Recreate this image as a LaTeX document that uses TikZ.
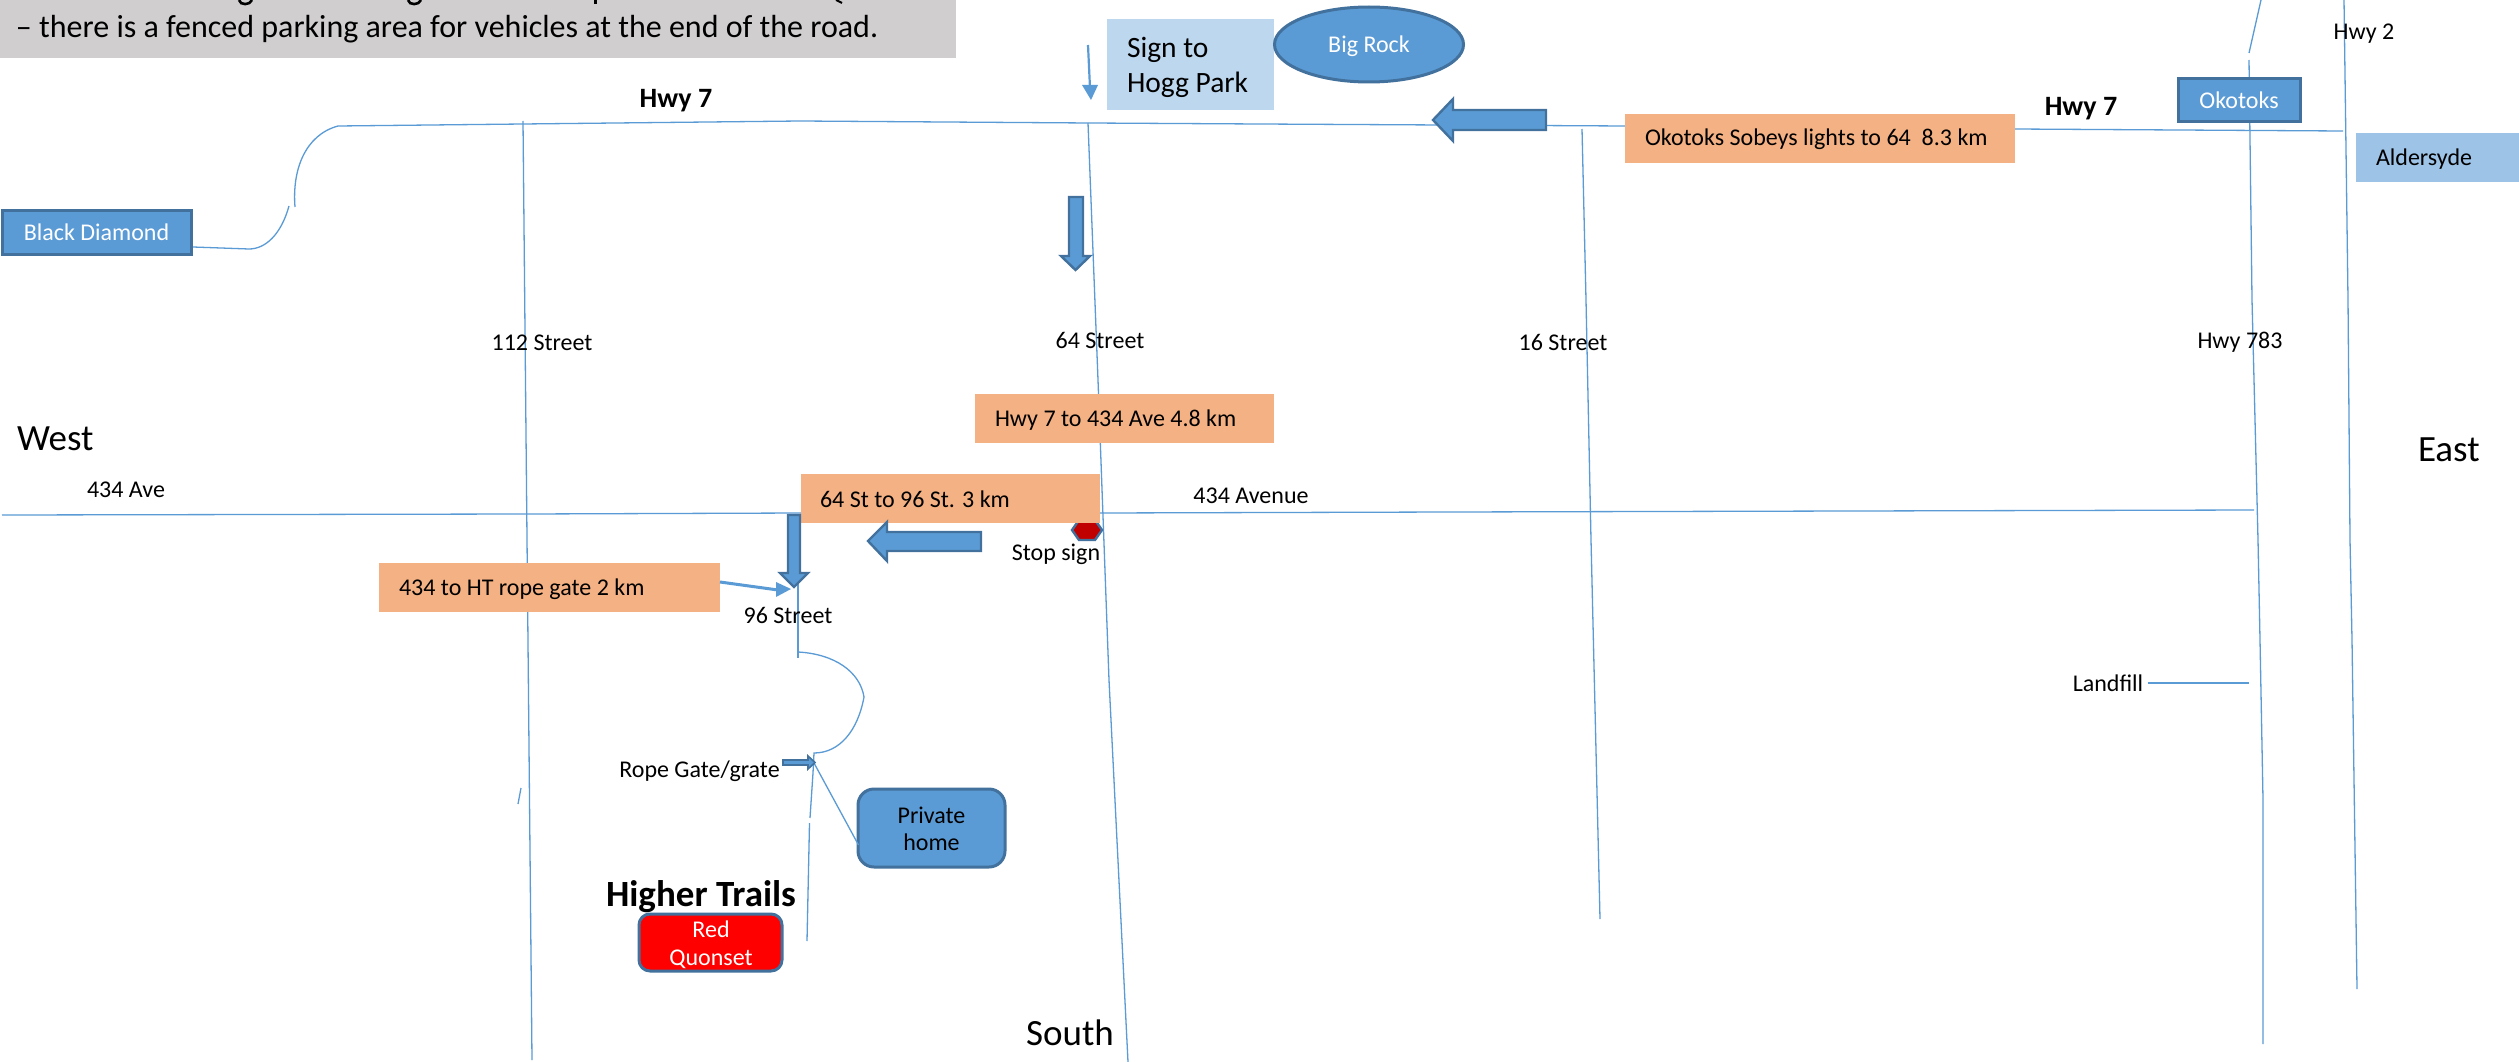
\documentclass[tikz,border=0pt]{standalone}
\usepackage{fontspec}
\setmainfont{Carlito}
\definecolor{road}{HTML}{5B9BD5}
\definecolor{edge}{HTML}{41719C}
\definecolor{peach}{HTML}{F4B183}
\definecolor{greybox}{HTML}{D0CECE}
\definecolor{paleblue}{HTML}{BDD7EE}
\definecolor{midblue}{HTML}{9DC3E6}
\definecolor{stopred}{HTML}{C00000}
\tikzset{
  roadline/.style={draw=road,line width=1.3pt},
  fatarrow/.style={fill=road,draw=edge,line width=2.4pt,line join=miter},
  lbl/.style={inner sep=0pt,outer sep=0pt,anchor=base,text=black,font=\fontsize{24}{28}\selectfont},
  lblw/.style={lbl,anchor=base west},
  boldlbl/.style={lbl,font=\fontsize{28}{32}\selectfont\bfseries},
  compass/.style={lbl,font=\fontsize{37}{44}\selectfont},
  whitetxt/.style={lbl,text=white},
  flat/.style={draw=none,inner sep=0pt,outer sep=0pt},
  bluebox/.style={fill=road,draw=edge,line width=3pt},
  headfill/.style={fill=road,draw=none}
}
\begin{document}
\begin{tikzpicture}[x=1pt,y=-1pt]
\useasboundingbox[fill=white] (0,0) rectangle (2519,1062);
% grey note
\fill[greybox] (0,0) rectangle (956,58);
\draw[black,line width=2.6pt] (239,0) .. controls (240,5.5) and (250,5.5) .. (252,0);
\draw[black,line width=2.6pt] (408,0) .. controls (409,5.5) and (419,5.5) .. (421,0);
\draw[black,line width=3pt] (595,0) -- (595,4);
\draw[black,line width=2pt] (836,0) -- (842,3);
\node[lblw,font=\fontsize{32}{38}\selectfont] (note) at (16,38) {– there is a fenced parking area for vehicles at the end of the road.};
% roads
\draw[roadline] (338,126) -- (800,121) -- (1090,123) -- (1260,124) -- (1626,126) -- (2015,129) -- (2343,131);
\draw[roadline] (338,126) .. controls (305,135) and (292,170) .. (295,207);
\draw[roadline] (289,206) .. controls (281,235) and (265,249) .. (249,249) -- (193,247);
\draw[roadline] (523,121) -- (532,1060);
\draw[roadline] (521,788) -- (518,804);
\draw[roadline] (1088,123) -- (1098,380) -- (1109,680) -- (1128,1062);
\draw[roadline] (1582,129) -- (1586,300) -- (1591,540) -- (1600,919);
\draw[roadline] (2261,0) -- (2249,53);
\draw[roadline] (2249,60) -- (2252,300) -- (2258,540) -- (2260,640) -- (2263,800) -- (2263,1044);
\draw[roadline] (2344,0) -- (2348,300) -- (2350,540) -- (2352,640) -- (2357,989);
\draw[roadline] (2,515) -- (527,514) -- (801,513) -- (1100,513) -- (1450,512) -- (2254,510);
\draw[roadline] (798,514) -- (798,658);
\draw[roadline] (798,652) .. controls (835,654) and (860,672) .. (864,697);
\draw[roadline] (864,697) .. controls (858,730) and (840,753) .. (814,753) -- (813,773) -- (810,818);
\draw[roadline] (809.5,823) -- (807,941);
\coordinate (gatepoint) at (814,763);
\draw[roadline] (2147.5,683) -- (2249,683);
% stop sign
\draw[fill=stopred,draw=edge,line width=2.4pt] (1072,530) -- (1079,520) -- (1095,520) -- (1102,530) -- (1095,540) -- (1079,540) -- cycle;
% boxes
\node[flat,fill=paleblue,minimum width=167pt,minimum height=91pt,anchor=north west] (sign) at (1107,19) {};
\node[lblw,font=\fontsize{29.5}{34}\selectfont] (signa) at (1127,58) {Sign to};
\node[lblw,font=\fontsize{29.5}{34}\selectfont] (signb) at (1127,93) {Hogg Park};
\draw[bluebox] (1369,44.5) ellipse [x radius=94.5,y radius=37.5];
\node[whitetxt] (bigrock) at (1369,53) {Big Rock};
\node[flat,fill=peach,minimum width=390pt,minimum height=49pt,anchor=north west] (okbox) at (1625,114) {};
\node[lblw] (oktext) at (1645,146) {Okotoks Sobeys lights to 64\ \ 8.3 km};
\node[flat,fill=peach,minimum width=299pt,minimum height=49pt,anchor=north west] (hwybox) at (975,394) {};
\node[lblw] (hwytext) at (995,426) {Hwy 7 to 434 Ave 4.8 km};
\node[flat,fill=peach,minimum width=299pt,minimum height=49pt,anchor=north west] (stbox) at (801,474) {};
\node[lblw] (sttext) at (820,507) {64 St to 96 St. 3 km};
\node[flat,fill=peach,minimum width=341pt,minimum height=49pt,anchor=north west] (htbox) at (379,563) {};
\node[lblw] (httext) at (399,595) {434 to HT rope gate 2 km};
\node[flat,fill=midblue,minimum width=163pt,minimum height=49pt,anchor=north west] (alder) at (2356,133) {};
\node[lblw] (aldertext) at (2376,165) {Aldersyde};
\draw[bluebox] (2,210) rectangle (191,254);
\coordinate (bdedge) at (191,247);
\node[whitetxt] (bdtext) at (96.5,240) {Black Diamond};
\draw[bluebox] (2178,79) rectangle (2300,122);
\node[whitetxt] (oktoks) at (2239,109) {Okotoks};
\draw[bluebox,rounded corners=16pt] (858,789) rectangle (1005,867);
\draw[roadline] (gatepoint) -- (858.5,845);
\node[lbl] (priv1) at (931.5,823) {Private};
\node[lbl] (priv2) at (931.5,850) {home};
\draw[fill=red,draw=edge,line width=3pt,rounded corners=11pt] (639,914) rectangle (782,971);
\node[whitetxt] (red1) at (711,937) {Red};
\node[whitetxt] (red2) at (711,965) {Quonset};
% fat arrows
\draw[fatarrow] (1069,197) -- (1083,197) -- (1083,256) -- (1090,256) -- (1075.5,270) -- (1061,256) -- (1069,256) -- cycle;
\draw[fatarrow] (1546,110) -- (1453,110) -- (1453,99) -- (1433,120) -- (1453,141) -- (1453,130) -- (1546,130) -- cycle;
\draw[fatarrow] (981,532) -- (887,532) -- (887,522) -- (868,541) -- (887,561) -- (887,551) -- (981,551) -- cycle;
\draw[fatarrow] (788,515) -- (800,515) -- (800,573) -- (808,573) -- (794,587) -- (780,573) -- (788,573) -- cycle;
\draw[fatarrow,line width=1.6pt] (783,760) -- (808,760) -- (808,756) -- (815,762.5) -- (808,769) -- (808,765) -- (783,765) -- cycle;
% thin arrows
\draw[draw=road,line width=2.2pt] (1088,45) -- (1090,88);
\fill[headfill] (1082,85) -- (1098,85) -- (1091,100) -- cycle;
\draw[draw=road,line width=3pt] (720,582) -- (778,590);
\fill[headfill] (776,582) -- (791,589) -- (776,597) -- cycle;
% labels
\node[boldlbl] (h7a) at (676,108) {Hwy 7};
\node[boldlbl] (h7b) at (2081,116) {Hwy 7};
\node[lbl] (h2) at (2364,40) {Hwy 2};
\node[lbl] (s112) at (542,350) {112 Street};
\node[lbl] (s64) at (1100,348) {64 Street};
\node[lbl] (s16) at (1563,350) {16 Street};
\node[lbl] (h783) at (2240,348) {Hwy 783};
\node[lbl] (a434) at (126,497) {434 Ave};
\node[lbl] (a434b) at (1251,503) {434 Avenue};
\node[lbl] (stop) at (1056,560) {Stop sign};
\node[lbl] (s96) at (788,623) {96 Street};
\node[lbl] (rope) at (699.5,777) {Rope Gate/grate};
\node[lbl] (land) at (2108,691) {Landfill};
\node[lbl,font=\fontsize{37}{44}\selectfont\bfseries] (higher) at (701,906) {Higher Trails};
\node[compass,anchor=base west] (west) at (17,450) {West};
\node[compass,anchor=base west] (east) at (2418,461) {East};
\node[compass] (south) at (1070,1045) {South};
\end{tikzpicture}
\end{document}
